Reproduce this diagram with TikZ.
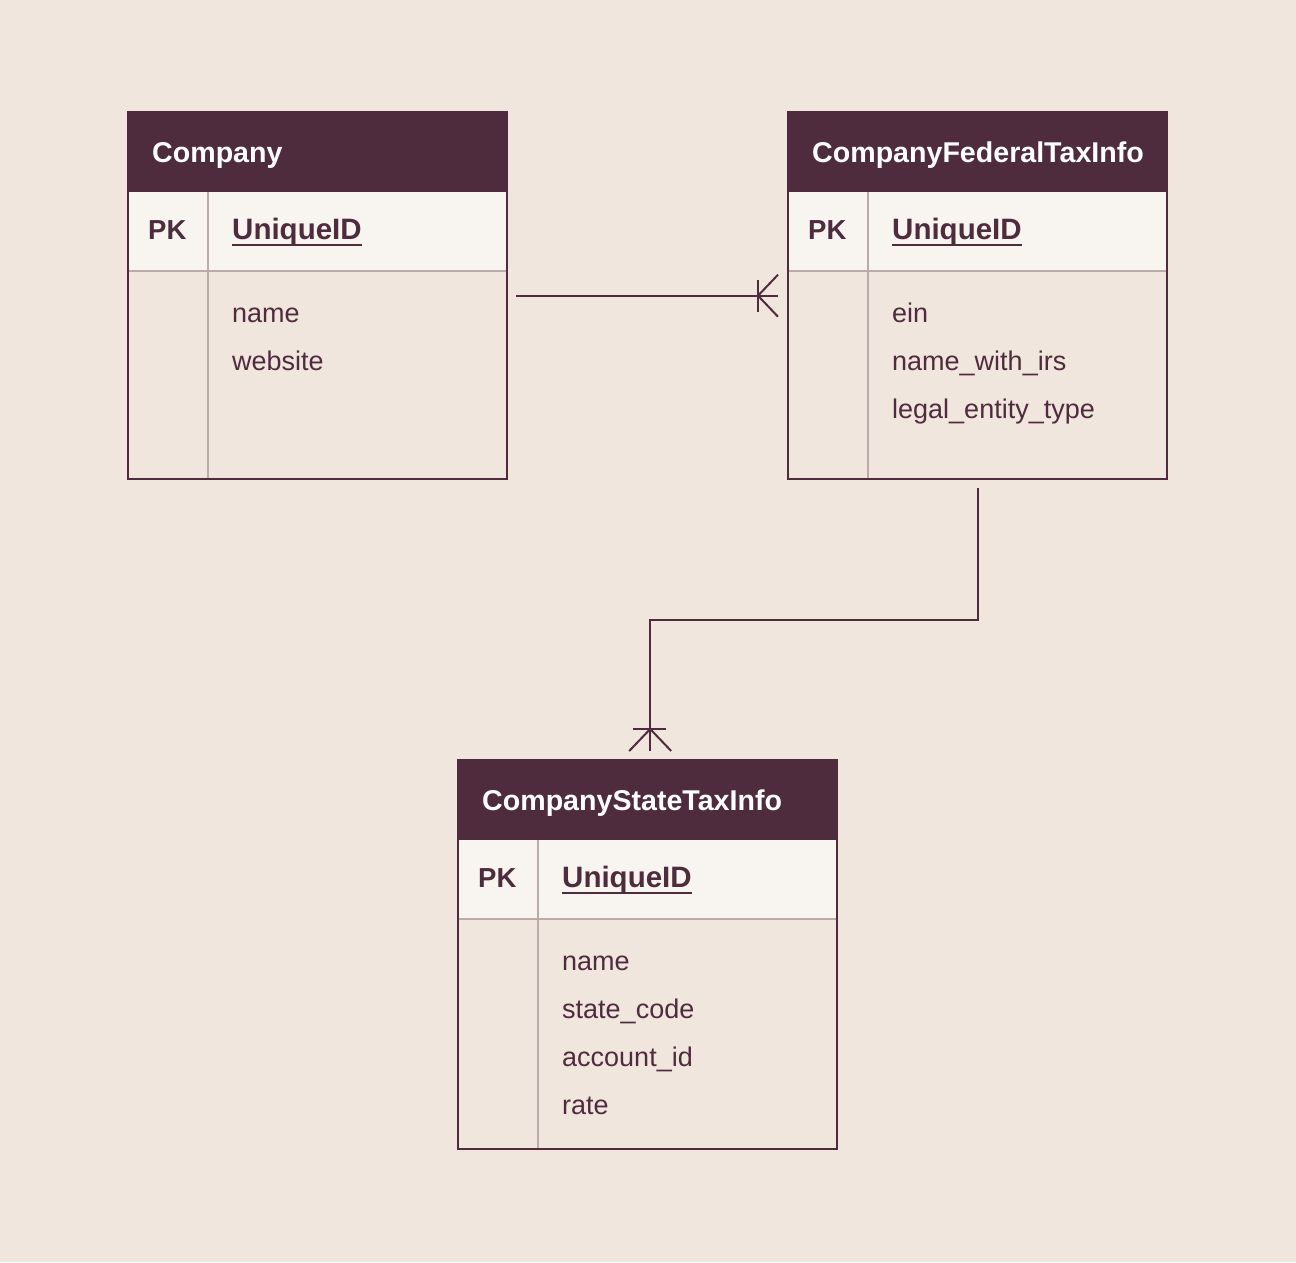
\documentclass[tikz,border=0pt]{standalone}
\usepackage{fontspec}
\setmainfont{Liberation Sans}
\usetikzlibrary{calc}
\definecolor{bgc}{HTML}{F0E6DE}
\definecolor{dark}{HTML}{4F2C3D}
\definecolor{pkrow}{HTML}{F8F4F0}
\definecolor{grayl}{HTML}{BBAAAA}
\tikzset{
  tablebox/.style={rectangle, inner sep=0pt, minimum width=379pt, anchor=north west},
  hdrfill/.style={fill=dark},
  pkfill/.style={fill=pkrow},
  border/.style={draw=dark, line width=2pt},
  gline/.style={draw=grayl, line width=1.5pt},
  titletext/.style={anchor=base west, inner sep=0pt, text=white, font=\fontsize{28.6}{30}\selectfont\bfseries},
  pktext/.style={anchor=base west, inner sep=0pt, text=dark, font=\fontsize{27.5}{30}\selectfont\bfseries},
  idtext/.style={anchor=base west, inner sep=0pt, text=dark, font=\fontsize{29.5}{30}\selectfont\bfseries},
  fieldtext/.style={anchor=base west, inner sep=0pt, text=dark, font=\fontsize{27}{30}\selectfont},
  conn/.style={draw=dark, line width=2pt},
}
\newcommand\ertable[5]{%
  \node[tablebox, minimum height=#3] (#1) at #2 {};
  \fill[hdrfill] (#1.north west) rectangle ($(#1.north east)+(0,80)$);
  \fill[pkfill] ($(#1.north west)+(0,80)$) rectangle ($(#1.north east)+(0,159)$);
  \draw[gline] ($(#1.north west)+(0,159)$) -- ($(#1.north east)+(0,159)$);
  \draw[gline] ($(#1.north west)+(80,80)$) -- ($(#1.south west)+(80,0)$);
  \draw[border] (#1.north west) rectangle (#1.south east);
  \node[titletext] (#1-title) at ($(#1.north west)+(24,50)$) {#4};
  \node[pktext] (#1-pk) at ($(#1.north west)+(20,127)$) {PK};
  \node[idtext] (#1-id) at ($(#1.north west)+(104,127)$) {UniqueID};
  \draw[conn] ($(#1-id.base west)+(0,6)$) -- ($(#1-id.base east)+(0,6)$);
  \foreach \f [count=\i] in {#5} {
    \node[fieldtext] (#1-f\i) at ($(#1.north west)+(104,162+48*\i)$) {\f};
  }
}
\begin{document}
\begin{tikzpicture}[x=1pt,y=-1pt]
\fill[bgc] (0,0) rectangle (1296,1262);
\useasboundingbox (0,0) rectangle (1296,1262);

\ertable{company}{(128,112)}{367pt}{Company}{name,website}
\ertable{federal}{(788,112)}{367pt}{CompanyFederalTaxInfo}{ein,name\_with\_irs,legal\_entity\_type}
\ertable{state}{(458,760)}{389pt}{CompanyStateTaxInfo}{name,state\_code,account\_id,rate}

% connector Company -> Federal (one-to-many)
\coordinate (c1s) at ($(company.east)+(9,0)$);
\coordinate (c1e) at ($(federal.west)+(-10,0)$);
\draw[conn] (c1s) -- (c1e);
\draw[conn] ($(c1e)+(-20,-16)$) -- ($(c1e)+(-20,16)$);
\draw[conn] ($(c1e)+(-20,0)$) -- ($(c1e)+(0,-21)$);
\draw[conn] ($(c1e)+(-20,0)$) -- ($(c1e)+(0,21)$);

% connector Federal -> State (one-to-many)
\coordinate (c2s) at ($(federal.south)+(0,9)$);
\coordinate (c2e) at ($(state.north)+(2.5,-9)$);
\coordinate (c2m) at (0,620);
\draw[conn] (c2s) -- (c2s |- c2m) -| (c2e);
\draw[conn] ($(c2e)+(-17,-22)$) -- ($(c2e)+(16,-22)$);
\draw[conn] ($(c2e)+(0,-22)$) -- ($(c2e)+(-21,0)$);
\draw[conn] ($(c2e)+(0,-22)$) -- ($(c2e)+(21,0)$);
\end{tikzpicture}
\end{document}
